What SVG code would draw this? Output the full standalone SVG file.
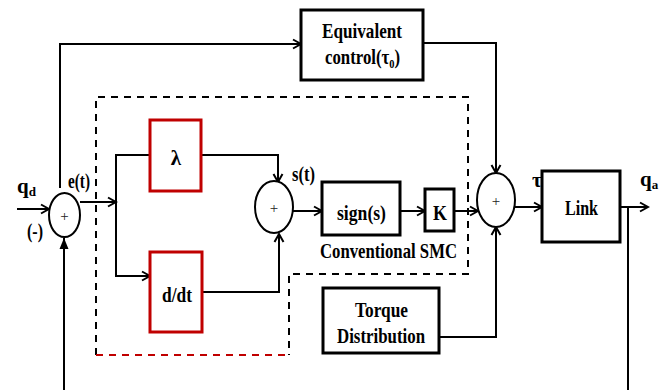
<svg xmlns="http://www.w3.org/2000/svg" width="666" height="390" viewBox="0 0 666 390">
<defs>
<marker id="arr" markerUnits="userSpaceOnUse" markerWidth="12" markerHeight="12" refX="10" refY="6" orient="auto">
<path d="M2,1.5 L10,6 L2,10.5" fill="none" stroke="#000" stroke-width="2"/>
</marker>
<marker id="tri" markerUnits="userSpaceOnUse" markerWidth="12" markerHeight="12" refX="11" refY="6" orient="auto">
<path d="M0,1.5 L11,6 L0,10.5 Z" fill="#000"/>
</marker>
</defs>
<style>
.blk{fill:#fff;stroke:#000;stroke-width:3}
.red{fill:#fff;stroke:#c00000;stroke-width:3}
.sum{fill:#fff;stroke:#000;stroke-width:2}
.ln{fill:none;stroke:#000;stroke-width:2}
.dash{fill:none;stroke:#000;stroke-width:2;stroke-dasharray:7 6}
.dashr{fill:none;stroke:#c00000;stroke-width:2;stroke-dasharray:7 6}
text{font-family:"Liberation Serif","Times New Roman",serif;font-weight:bold;font-size:21px;fill:#000}
.plus{font-weight:normal;font-size:15px;text-anchor:middle;fill:#222}
.c{text-anchor:middle}
.sub{font-size:13px}
</style>
<rect width="666" height="390" fill="#fff"/>
<g id="dashed-region">
<path class="dash" d="M96,355 L96,97 L468,97 L468,274 L289,274 L289,355"/>
<path class="dashr" d="M96,355 L289,355"/>
</g>
<g id="connectors">
<path class="ln" d="M17,209 L49,209" marker-end="url(#arr)"/>
<path class="ln" d="M80,202 L116,202" marker-end="url(#arr)"/>
<path class="ln" d="M150,155 L116,155 L116,276 L150,276" marker-end="url(#arr)"/>
<path class="ln" d="M201,155 L278,155 L278,182" marker-end="url(#arr)"/>
<path class="ln" d="M202,292 L279,292 L279,234" marker-end="url(#arr)"/>
<path class="ln" d="M293,211 L322,211" marker-end="url(#arr)"/>
<path class="ln" d="M400,211 L425,211" marker-end="url(#arr)"/>
<path class="ln" d="M454,211 L478,211" marker-end="url(#arr)"/>
<path class="ln" d="M423,43 L496,43 L496,173" marker-end="url(#arr)"/>
<path class="ln" d="M60,188 L60,44 L301,44" marker-end="url(#arr)"/>
<path class="ln" d="M439,337 L496,337 L496,227" marker-end="url(#arr)"/>
<path class="ln" d="M515,207 L542,207" marker-end="url(#arr)"/>
<path class="ln" d="M620,207 L648,207" marker-end="url(#arr)"/>
<path class="ln" d="M628,207 L628,390"/>
<path class="ln" d="M64,390 L64,238" marker-end="url(#tri)"/>
</g>
<g id="sum1">
<ellipse class="sum" cx="64.5" cy="215" rx="15.5" ry="22"/>
<text class="plus" x="64.5" y="221">+</text>
</g>
<g id="lambda">
<rect class="red" x="150" y="120" width="51" height="71"/>
<text class="c" x="176" y="165">λ</text>
</g>
<g id="ddt">
<rect class="red" x="150" y="252" width="52" height="80"/>
<text x="162" y="302" textLength="30" lengthAdjust="spacingAndGlyphs">d/dt</text>
</g>
<g id="sum2">
<ellipse class="sum" cx="274" cy="207" rx="19" ry="26"/>
<text class="plus" x="274" y="213">+</text>
</g>
<g id="sign">
<rect class="blk" x="322" y="182" width="78" height="53"/>
<text x="337" y="220" textLength="49" lengthAdjust="spacingAndGlyphs">sign(s)</text>
</g>
<g id="gainK">
<rect class="blk" x="425" y="189" width="29" height="42"/>
<text class="c" x="440" y="220" textLength="14" lengthAdjust="spacingAndGlyphs">K</text>
</g>
<g id="equivalent">
<rect class="blk" x="301" y="10" width="122" height="70"/>
<text x="322" y="38" textLength="80" lengthAdjust="spacingAndGlyphs">Equivalent</text>
<text transform="translate(325,64) scale(0.8,1)" x="0" y="0">control(τ<tspan class="sub" dy="4">0</tspan><tspan dy="-4">)</tspan></text>
</g>
<g id="sum3">
<ellipse class="sum" cx="496" cy="200" rx="19" ry="27"/>
<text class="plus" x="496" y="206">+</text>
</g>
<g id="torque">
<rect class="blk" x="323" y="288" width="116" height="65"/>
<text x="355" y="317" textLength="53" lengthAdjust="spacingAndGlyphs">Torque</text>
<text x="337" y="343" textLength="88" lengthAdjust="spacingAndGlyphs">Distribution</text>
</g>
<g id="link">
<rect class="blk" x="542" y="171" width="78" height="71"/>
<text x="565" y="215" textLength="33" lengthAdjust="spacingAndGlyphs">Link</text>
</g>
<g id="labels">
<text x="17" y="193">q<tspan class="sub" dy="3">d</tspan></text>
<text x="27" y="238" font-weight="normal" font-size="18" textLength="16" lengthAdjust="spacingAndGlyphs">(-)</text>
<text x="68" y="188" textLength="22" lengthAdjust="spacingAndGlyphs">e(t)</text>
<text x="292" y="181" textLength="23" lengthAdjust="spacingAndGlyphs">s(t)</text>
<text x="320" y="258" textLength="137" lengthAdjust="spacingAndGlyphs">Conventional SMC</text>
<text x="532" y="187">τ</text>
<text x="640" y="186">q<tspan class="sub" dy="3">a</tspan></text>
</g>
</svg>
